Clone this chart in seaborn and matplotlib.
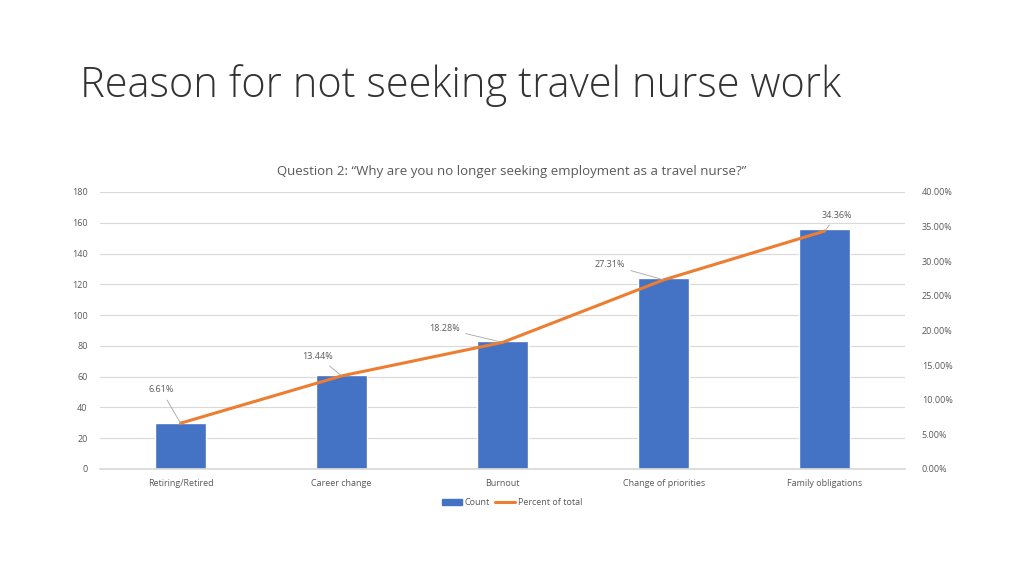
import matplotlib.pyplot as plt
import matplotlib.ticker as mtick
from matplotlib.patches import Patch
from matplotlib.lines import Line2D
import numpy as np
import pandas as pd
import seaborn as sb

sb.set_theme(style="white")
plt.rcParams['font.family'] = ['Open Sans', 'DejaVu Sans']

# values
categories = ["Retiring/Retired", "Career change", "Burnout",
              "Change of priorities", "Family obligations"]
counts = [30, 61, 83, 124, 156]
percents = [6.61, 13.44, 18.28, 27.31, 34.36]
count_ticks = [0, 20, 40, 60, 80, 100, 120, 140, 160, 180]
pct_ticks = [0, 5, 10, 15, 20, 25, 30, 35, 40]

BLUE = "#4472C4"
ORANGE = "#ED7D31"
GREY = "#595959"
GRID = "#D9D9D9"

df = pd.DataFrame({"reason": categories, "count": counts, "pct": percents})

fig = plt.figure(figsize=(10.24, 5.76), dpi=100)
ax = fig.add_axes([0.0977, 0.1858, 0.7863, 0.4809])

sb.barplot(data=df, x="reason", y="count", color=BLUE, width=0.315,
           saturation=1, ax=ax, zorder=2)
ax.set_ylim(0, 180)
ax.set_yticks(count_ticks)
ax.set_xlim(-0.5, len(categories) - 0.5)
ax.grid(axis="y", color=GRID, linewidth=0.8, zorder=0)
ax.set_axisbelow(True)
ax.set_xlabel("")
ax.set_ylabel("")
for s in ["top", "right", "left"]:
    ax.spines[s].set_visible(False)
ax.spines["bottom"].set_color(GRID)
ax.tick_params(axis="both", length=0, labelsize=6.5, colors=GREY, pad=7)
ax.tick_params(axis="y", pad=9)

ax2 = ax.twinx()
xpos = np.arange(len(categories))
sb.lineplot(x=xpos, y=percents, color=ORANGE, linewidth=2.2, ax=ax2, zorder=3)
ax2.set_ylim(0, 40)
ax2.set_yticks(pct_ticks)
ax2.yaxis.set_major_formatter(mtick.FuncFormatter(lambda v, p: f"{v:.2f}%"))
ax2.tick_params(axis="y", length=0, labelsize=6.5, colors=GREY, pad=12)
for s in ax2.spines.values():
    s.set_visible(False)
ax2.set_ylabel("")

# data labels with leader lines
offsets = [(-14, 24), (-17, 14), (-42, 10), (-39, 11), (9, 11.5)]
for x, p, off in zip(xpos, percents, offsets):
    ax2.annotate(f"{p:.2f}%", xy=(x, p), xytext=off, textcoords="offset points",
                 ha="center", va="center", fontsize=6.5, color=GREY,
                 arrowprops=dict(arrowstyle="-", color="#A6A6A6", lw=0.6,
                                 shrinkA=2, shrinkB=0))

handles = [Patch(color=BLUE, label="Count"),
           Line2D([0], [0], color=ORANGE, lw=2.2, label="Percent of total")]
fig.legend(handles=handles, loc="center", bbox_to_anchor=(0.5, 0.127), ncol=2,
           frameon=False, fontsize=6.5, handlelength=2.2, handleheight=0.6,
           columnspacing=0.6, handletextpad=0.3, labelcolor=GREY)

fig.text(0.5, 0.703, "Question 2: \u201cWhy are you no longer seeking employment as a travel nurse?\u201d",
         ha="center", va="center", fontsize=9.5, color=GREY)
fig.text(0.078, 0.852, "Reason for not seeking travel nurse work", ha="left",
         va="center", fontsize=30, color="#333333", fontweight="light")

fig.savefig("out.png", dpi=100)
